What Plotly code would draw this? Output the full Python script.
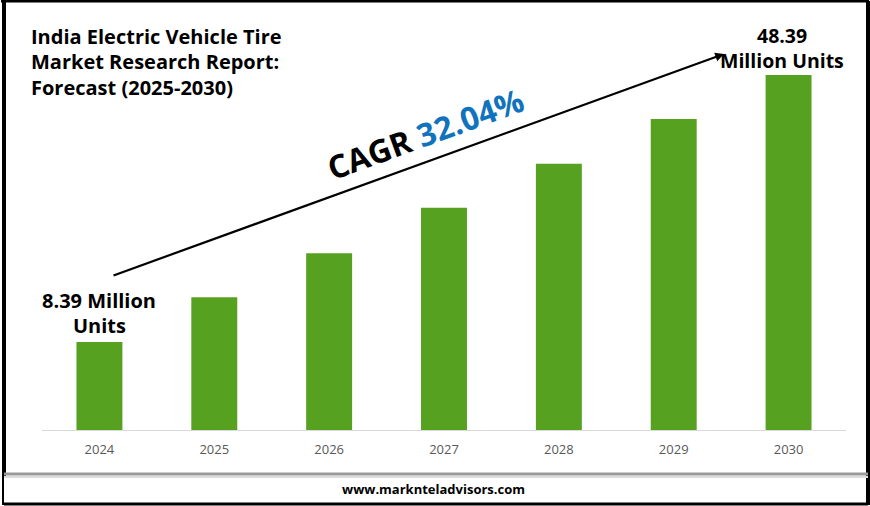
"""India EV tire market chart."""
import plotly.graph_objects as go

W, H = 870, 506

years = ['2024', '2025', '2026', '2027', '2028', '2029', '2030']
# bar heights as drawn in the picture, scaled so the last bar is 48.39
values = [12.0, 18.1, 24.1, 30.3, 36.3, 42.4, 48.39]

title_lines = ['India Electric Vehicle Tire', 'Market Research Report:', 'Forecast (2025-2030)']
first_label = ['8.39 Million', 'Units']
last_label = ['48.39', 'Million Units']
site = 'www.marknteladvisors.com'

FONT = 'Open Sans'


def px(x):
    return x / W


def py(y):
    return 1 - y / H


def border(x0, y0, x1, y1, color='black', width=3):
    return dict(type='line', xref='paper', yref='paper', x0=px(x0), y0=py(y0),
                x1=px(x1), y1=py(y1), line=dict(color=color, width=width))


def label(text, x, y, size, color='black', bold=True, angle=0, anchor='left'):
    return dict(text=f'<b>{text}</b>' if bold else text, xref='paper', yref='paper',
                x=px(x), y=py(y), xanchor=anchor, yanchor='middle', showarrow=False,
                textangle=angle, font=dict(family=FONT, size=size, color=color))


fig = go.Figure(go.Bar(x=years, y=values, marker=dict(color='#57a121', line_width=0)))

annotations = []
for line, y in zip(title_lines, [36, 62, 87]):
    annotations.append(label(line, 29, y, 20))
for line, y in zip(first_label, [300, 325]):
    annotations.append(label(line, 99, y, 20, anchor='center'))
for line, y in zip(last_label, [35, 61]):
    annotations.append(label(line, 782, y, 19.5, anchor='center'))
annotations.append(label(site, 433, 489, 13, anchor='center'))
annotations.append(label('CAGR <span style="color:#1273bd">32.04%</span>', 425, 133, 32,
                         angle=-20, anchor='center'))
# trend arrow
annotations.append(dict(xref='paper', yref='paper', axref='pixel', ayref='pixel',
                        x=px(724), y=py(54), ax=-612, ay=222, text='',
                        showarrow=True, arrowhead=2, arrowsize=0.8, arrowwidth=2.2,
                        arrowcolor='black'))

shapes = [
    border(1, 1, 869, 1),
    border(4, 1, 4, 476, width=4),
    border(868, 1, 868, 505, width=4),
    border(4, 504, 868, 504),
    border(3, 505, 3, 476, width=2),
    border(4, 474, 868, 474, color='#9a9a9a', width=3),
    border(4, 477, 868, 477, color='#dddddd', width=2),
]

fig.update_layout(
    width=W, height=H,
    margin=dict(l=0, r=0, t=0, b=0),
    paper_bgcolor='white', plot_bgcolor='white',
    showlegend=False, bargap=0.6,
    xaxis=dict(domain=[px(42), px(846)], type='category', showgrid=False, showline=True,
               linecolor='#d9d9d9', linewidth=1, ticks='', ticklabelstandoff=7,
               tickfont=dict(family=FONT, size=13, color='#595959')),
    yaxis=dict(domain=[py(430), 1], range=[0, 48.39 * 430 / 355], visible=False),
    annotations=annotations,
    shapes=shapes,
)

# page has a default body margin, drop it so the figure fills the window
fig.write_html('out.html', config=dict(displayModeBar=False),
               post_script="document.body.style.margin='0';")
